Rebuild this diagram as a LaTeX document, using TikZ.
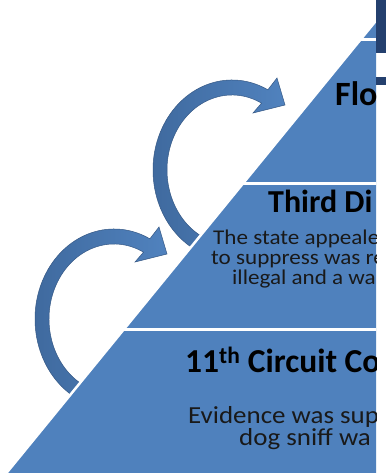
\documentclass[tikz,border=0pt]{standalone}
\usepackage{fontspec}
\setmainfont{Carlito}
\newfontfamily\widefont[FakeStretch=1.1]{Carlito}
\usetikzlibrary{calc}
\definecolor{pyr}{RGB}{79,129,189}
\definecolor{arrdark}{RGB}{62,104,156}
\definecolor{arrlight}{RGB}{80,130,190}
\definecolor{navy}{RGB}{36,64,110}
\tikzset{
  band/.style={fill=pyr},
  sep/.style={draw=white, line width=3pt},
  curvarrow/.style={left color=arrdark, right color=arrlight, draw=arrdark!85!black, line width=0.5pt},
  ttl/.style={anchor=base west, inner sep=0pt, text height=0.62em, text depth=0pt, font=\fontsize{32}{32}\selectfont\bfseries, text=black},
  body/.style={anchor=base west, inner sep=0pt, text height=0.6em, text depth=0pt, text=black!90},
}
\begin{document}
\begin{tikzpicture}[x=1pt,y=1pt]
\useasboundingbox (0,0) rectangle (386,476);
\fill[white] (0,0) rectangle (386,476);
% curved arrows
\foreach \dx/\dy/\nm in {0/0/arrA,-118/-149/arrB}{
\begin{scope}[shift={(\dx,\dy)}]
\path[curvarrow] (232,306) ++(240:79 and 90) arc[start angle=240, end angle=63, x radius=79, y radius=90]
  -- (277,398) -- (285,371) -- (253,363)
  -- ($(232,306)+(63:65 and 75)$) arc[start angle=63, end angle=240, x radius=65, y radius=75] -- cycle;
\end{scope}}
% pyramid
\begin{scope}
\clip (0,0) rectangle (376,476);
\fill[band] (393,476) -- (6.5,3) -- (800,3) -- cycle;
\begin{scope}
\clip (393,476) -- (6.5,3) -- (800,3) -- cycle;
\draw[sep] (0,436.5) -- (400,436.5);
\draw[sep] (0,292) -- (400,292);
\draw[sep] (0,146.5) -- (400,146.5);
\end{scope}
\node[ttl, font=\fontsize{34}{34}\selectfont\bfseries] (flo) at (335,370) {Flo};
\node[ttl] (third) at (268,263) {Third Di};
\node[body, font=\widefont\fontsize{21}{21}\selectfont] (t1) at (213,231) {The state appeale};
\node[body, font=\widefont\fontsize{21}{21}\selectfont] (t2) at (211,211) {to suppress was re};
\node[body, font=\widefont\fontsize{21}{21}\selectfont] (t3) at (232,191) {illegal and a war};
\node[ttl, font=\fontsize{33.5}{33.5}\selectfont\bfseries] (circ) at (185,103) {11\textsuperscript{th} Circuit Co};
\node[body, font=\widefont\fontsize{24.5}{24.5}\selectfont] (e1) at (188,52.5) {Evidence was sup};
\node[body, font=\widefont\fontsize{24.5}{24.5}\selectfont] (e2) at (239,30) {dog sniff wa};
\end{scope}
\draw[white, line width=2.5pt] (394.5,478) -- (4.8,1);
\fill[white] (0,0) rectangle (386,3);
% right side elements
\fill[navy] (376,476) rectangle (386,423);
\fill[navy] (376,399) rectangle (386,391);
\end{tikzpicture}
\end{document}
